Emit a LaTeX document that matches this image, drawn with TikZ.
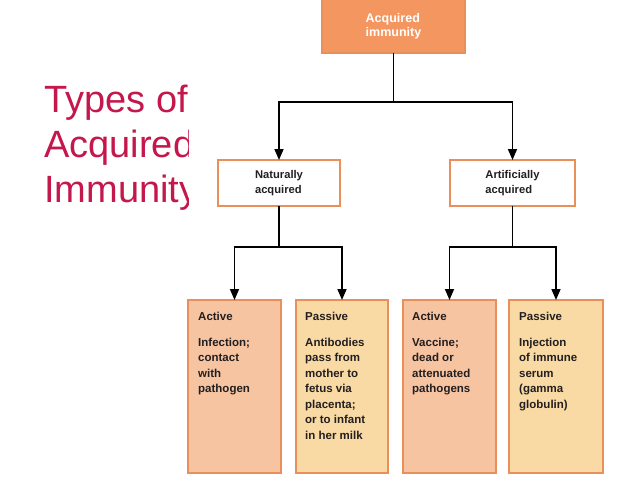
\documentclass[tikz,border=0pt]{standalone}
\usepackage{fontspec}
\setmainfont{Liberation Sans}
\usetikzlibrary{arrows.meta}
\definecolor{titlered}{RGB}{196,23,76}
\definecolor{toporange}{RGB}{244,150,96}
\definecolor{boxline}{RGB}{234,142,90}
\definecolor{activefill}{RGB}{247,196,162}
\definecolor{passivefill}{RGB}{249,218,164}
\definecolor{inkgray}{RGB}{35,31,32}

\begin{document}
\begin{tikzpicture}[x=1pt, y=-1pt,
    card/.style = {draw=boxline, line width=1.5pt, inner sep=0pt, outer sep=0pt},
    cardtext/.style = {font=\bfseries\fontsize{11.5}{15.5}\selectfont, align=left, inner sep=0pt, text=inkgray},
    link/.style = {draw=black, line width=1.6pt},
    linkarrow/.style = {link, -{Triangle[width=9pt,length=11pt]}}]
    \useasboundingbox (0,0) rectangle (638,479);
    % title, cut off on the right
    \begin{scope}
        \clip (0,0) rectangle (188,479);
        \node[anchor=north west, inner sep=0pt, align=left, text=titlered,
              font=\fontsize{38}{45}\selectfont] (title) at (44,84.5) {Types of\\Acquired\\Immunity};
    \end{scope}
    % top box
    \node[card, fill=toporange, minimum width=143pt, minimum height=54pt,
          font=\bfseries\fontsize{12.5}{14}\selectfont, text=white, align=left] (acq) at (393.5,26) {Acquired\\immunity};
    % second row
    \node[card, fill=white, minimum width=122pt, minimum height=46pt, font=\bfseries\fontsize{11.2}{15}\selectfont,
          text=inkgray, align=left] (nat) at (279,183) {Naturally\\acquired};
    \node[card, fill=white, minimum width=125pt, minimum height=46pt, font=\bfseries\fontsize{11.2}{15}\selectfont,
          text=inkgray, align=left] (art) at (512.5,183) {Artificially\\acquired};
    % bottom row
    \node[card, fill=activefill, minimum width=93pt, minimum height=173pt] (natact) at (234.5,386.5) {};
    \node[card, fill=passivefill, minimum width=92pt, minimum height=173pt] (natpas) at (342,386.5) {};
    \node[card, fill=activefill, minimum width=93pt, minimum height=173pt] (artact) at (449.5,386.5) {};
    \node[card, fill=passivefill, minimum width=94pt, minimum height=173pt] (artpas) at (556,386.5) {};
    % texts of the bottom row
    \node[cardtext, anchor=north west] (natacttext) at (198,311.7)
        {Active\\[10.5pt]Infection;\\contact\\with\\pathogen};
    \node[cardtext, anchor=north west] (natpastext) at (305,311.7)
        {Passive\\[10.5pt]Antibodies\\pass from\\mother to\\fetus via\\placenta;\\or to infant\\in her milk};
    \node[cardtext, anchor=north west] (artacttext) at (412,311.7)
        {Active\\[10.5pt]Vaccine;\\dead or\\attenuated\\pathogens};
    \node[cardtext, anchor=north west] (artpastext) at (519,311.7)
        {Passive\\[10.5pt]Injection\\of immune\\serum\\(gamma\\globulin)};
    % branch points
    \coordinate (jtop) at (393.5,102);
    \coordinate (jnat) at (279,247);
    \coordinate (jart) at (512.5,247);
    % connectors
    \path[link] (acq.south) -- (jtop);
    \path[linkarrow] (jtop) -| (nat.north);
    \path[linkarrow] (jtop) -| (art.north);
    \path[link] (nat.south) -- (jnat);
    \path[linkarrow] (jnat) -| (natact.north);
    \path[linkarrow] (jnat) -| (natpas.north);
    \path[link] (art.south) -- (jart);
    \path[linkarrow] (jart) -| (artact.north);
    \path[linkarrow] (jart) -| (artpas.north);
\end{tikzpicture}
\end{document}
